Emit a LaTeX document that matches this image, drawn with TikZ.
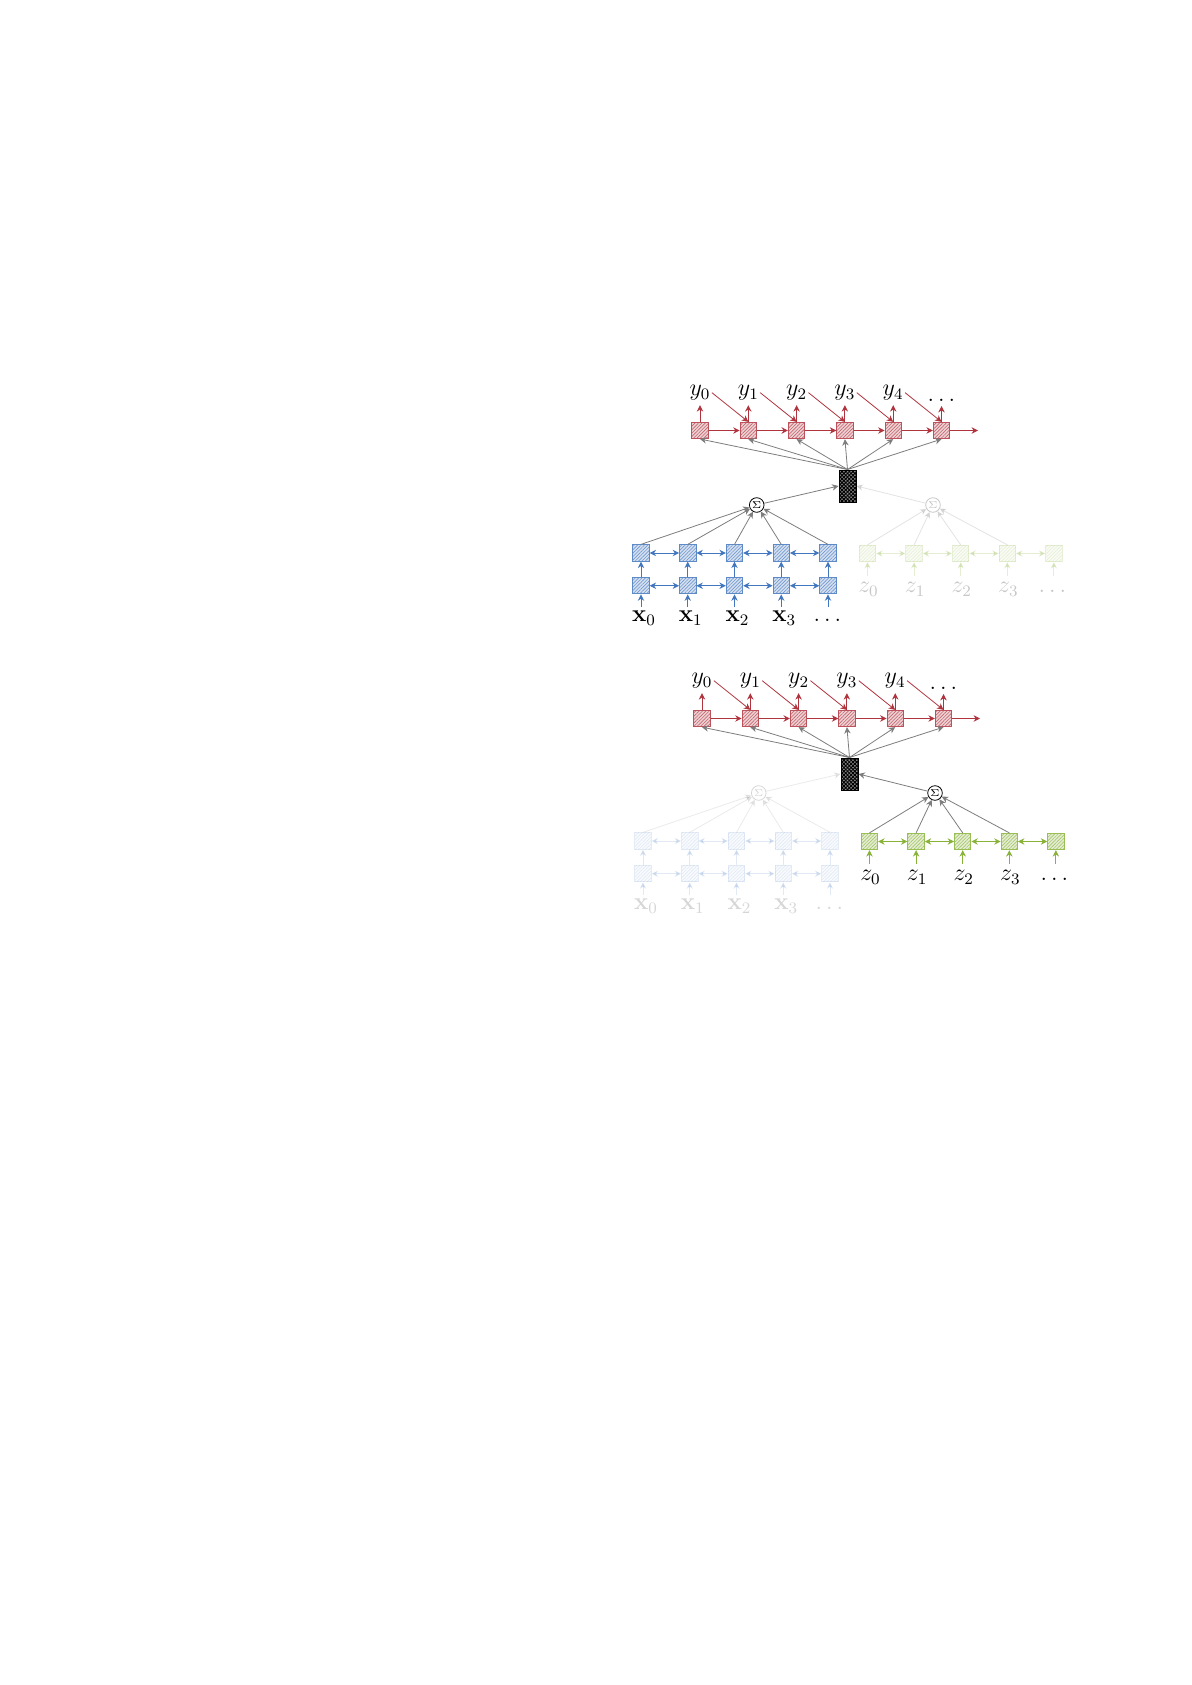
\documentclass[tikz,border=0pt]{standalone}
\usetikzlibrary{arrows.meta,patterns.meta}
\definecolor{cred}{RGB}{176,52,62}
\definecolor{cblue}{RGB}{66,118,190}
\definecolor{cgreen}{RGB}{136,178,56}
\definecolor{cgray}{RGB}{125,125,125}
\tikzset{
  tipA/.style={-{Stealth[length=3.2pt,width=3.2pt,inset=1pt]}},
  tipB/.style={{Stealth[length=3.2pt,width=3.2pt,inset=1pt]}-{Stealth[length=3.2pt,width=3.2pt,inset=1pt]}},
  cell/.style={rectangle, draw=#1!85, line width=0.45pt, minimum size=8.2pt, inner sep=0pt,
     preaction={fill=#1!22}, pattern={Lines[angle=45,distance=1.2pt,line width=0.32pt]}, pattern color=#1!75},
  sumnode/.style={circle, draw=black, line width=0.4pt, minimum size=7.3pt, inner sep=0pt, fill=white,
     font=\fontsize{5}{5}\selectfont},
  ctx/.style={rectangle, draw=black, line width=0.5pt, minimum width=8.5pt, minimum height=16pt, inner sep=0pt,
     preaction={fill=black!45},
     preaction={pattern={Lines[angle=45,distance=1.3pt,line width=0.5pt]}, pattern color=black},
     pattern={Lines[angle=-45,distance=1.3pt,line width=0.5pt]}, pattern color=black},
  lab/.style={font=\fontsize{11.5}{13}\selectfont, anchor=base, inner xsep=0.5pt},
  gline/.style={draw=cgray, line width=0.4pt},
  rline/.style={draw=cred, line width=0.5pt},
  dline/.style={draw=cred, line width=0.4pt},
  bline/.style={draw=cblue, line width=0.5pt},
  vline/.style={draw=cgreen, line width=0.5pt},
}
\newcommand\encdec[3]{%
  % decoder (red)
  \foreach \i in {0,...,5} \node[cell=cred] (#3r\i) at ({700+48.3*\i},430.5) {};
  \foreach \i/\t in {0/$y_0$,1/$y_1$,2/$y_2$,3/$y_3$,4/$y_4$}
    \node[lab, inner ysep=2.3pt] (#3y\i) at ({700+48.3*\i},395.5) {\t};
  \node[lab, inner ysep=2.3pt] (#3y5) at (941.5,401) {$\ldots$};
  \foreach \i in {0,...,5} \draw[tipA, rline] (#3r\i) -- (#3r\i |- #3y\i.south);
  \foreach \i/\j in {0/1,1/2,2/3,3/4,4/5} \draw[tipA, dline] (#3y\i.east) -- (#3r\j.north);
  \foreach \i/\j in {0/1,1/2,2/3,3/4,4/5} \draw[tipA, rline] (#3r\i) -- (#3r\j);
  \coordinate (#3rend) at (978,430.5);
  \draw[tipA, rline] (#3r5) -- (#3rend);
  % context vector
  \node[ctx] (#3c) at (847.5,486) {};
  \foreach \i in {0,...,5} \draw[tipA, gline] (#3c.north) -- (#3r\i.south);
  % encoder x (blue)
  \begin{scope}[opacity=#1]
    \foreach \i in {0,...,4} {
      \node[cell=cblue] (#3bt\i) at ({641+46.75*\i},553) {};
      \node[cell=cblue] (#3bb\i) at ({641+46.75*\i},585.7) {};
    }
    \foreach \i/\t in {0/$\mathbf{x}_0$,1/$\mathbf{x}_1$,2/$\mathbf{x}_2$,3/$\mathbf{x}_3$}
      \node[lab, inner ysep=1.6pt] (#3x\i) at ({644+46.75*\i},621.5) {\t};
    \node[lab, inner ysep=1.6pt] (#3x4) at (827.5,621.5) {$\ldots$};
    \foreach \i in {0,...,3} \draw[tipA, bline] (#3bb\i |- #3x\i.north) -- (#3bb\i);
    \draw[tipA, bline] (#3bb4 |- #3x3.north) -- (#3bb4);
    \foreach \i in {0,...,4} \draw[tipA, bline] (#3bb\i) -- (#3bt\i);
    \foreach \i/\j in {0/1,1/2,2/3,3/4} {
      \draw[tipB, bline] (#3bt\i) -- (#3bt\j);
      \draw[tipB, bline] (#3bb\i) -- (#3bb\j);
    }
    \node[sumnode] (#3sl) at (756.7,505) {$\Sigma$};
    \foreach \i in {0,...,4} \draw[tipA, gline] (#3bt\i.north) -- (#3sl);
    \draw[tipA, gline] (#3sl) -- (#3c.west);
  \end{scope}
  % encoder z (green)
  \begin{scope}[opacity=#2]
    \foreach \i in {0,...,4}
      \node[cell=cgreen] (#3g\i) at ({867.5+46.6*\i},553.5) {};
    \foreach \i/\t in {0/$z_0$,1/$z_1$,2/$z_2$,3/$z_3$}
      \node[lab, inner ysep=3pt] (#3z\i) at ({868.5+46.6*\i},592.8) {\t};
    \node[lab, inner ysep=3pt] (#3z4) at (1052.5,592) {$\ldots$};
    \foreach \i in {0,...,3} \draw[tipA, vline] (#3g\i |- #3z\i.north) -- (#3g\i);
    \draw[tipA, vline] (#3g4 |- #3z3.north) -- (#3g4);
    \foreach \i/\j in {0/1,1/2,2/3,3/4} \draw[tipB, vline] (#3g\i) -- (#3g\j);
    \node[sumnode] (#3sr) at (933,505) {$\Sigma$};
    \foreach \i in {0,...,3} \draw[tipA, gline] (#3g\i.north) -- (#3sr);
    \draw[tipA, gline] (#3sr) -- (#3c.east);
  \end{scope}
}
\begin{document}
\begin{tikzpicture}[x=0.5pt,y=-0.5pt]
  \useasboundingbox (0,0) rectangle (1192,1685);
  \encdec{1}{0.22}{a}
  \begin{scope}[shift={(2,288)}]
    \encdec{0.16}{1}{b}
  \end{scope}
\end{tikzpicture}
\end{document}
